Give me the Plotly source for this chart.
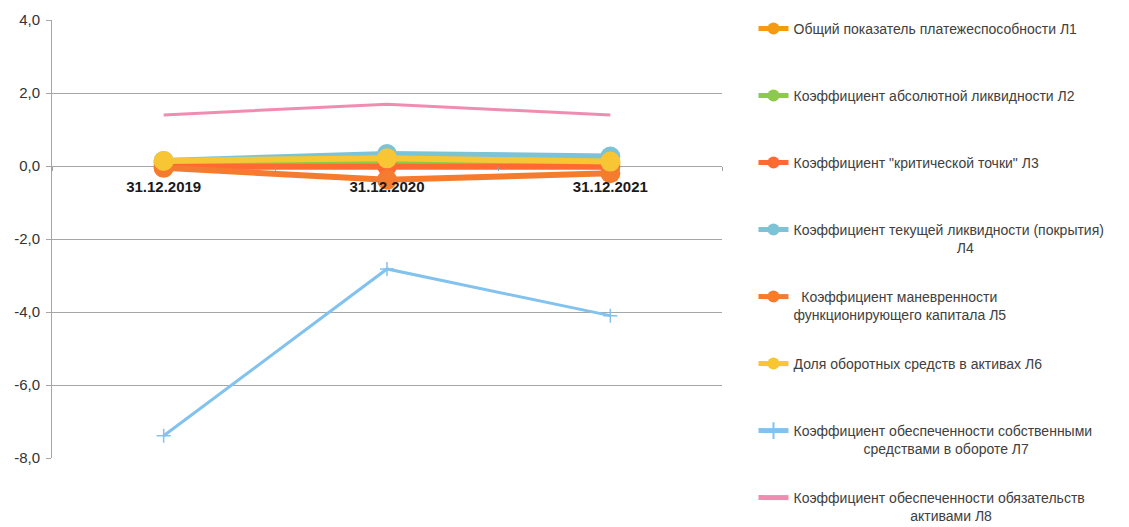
import plotly.graph_objects as go

categories = ["31.12.2019", "31.12.2020", "31.12.2021"]

y_tick_vals = [4, 2, 0, -2, -4, -6, -8]
y_tick_labels = ["4,0", "2,0", "0,0", "-2,0", "-4,0", "-6,0", "-8,0"]

names = [
    "Общий показатель платежеспособности Л1",
    "Коэффициент абсолютной ликвидности Л2",
    "Коэффициент \"критической точки\" Л3",
    "Коэффициент текущей ликвидности (покрытия)<br>" + "\u00a0" * 42 + "Л4",
    "\u00a0\u00a0Коэффициент маневренности<br>функционирующего капитала Л5",
    "Доля оборотных средств в активах Л6",
    "Коэффициент обеспеченности собственными<br>" + "\u00a0" * 18 + "средствами в обороте Л7",
    "Коэффициент обеспеченности обязательств<br>" + "\u00a0" * 30 + "активами Л8",
]

L1 = [0.10, 0.18, 0.10]
L2 = [0.03, 0.06, 0.04]
L3 = [-0.02, 0.00, -0.02]
L4 = [0.14, 0.33, 0.26]
L5 = [-0.05, -0.38, -0.20]
L6 = [0.14, 0.21, 0.12]
L7 = [-7.39, -2.82, -4.10]
L8 = [1.40, 1.69, 1.40]

series = [L1, L2, L3, L4, L5, L6, L7, L8]
colors = ["#F59B12", "#8DC94A", "#FF6A33", "#7CC3D6", "#F57B2E", "#F8C535", "#82C2EE", "#F18CB1"]

fig = go.Figure()
for i, (vals, name, col) in enumerate(zip(series, names, colors)):
    if i < 6:
        mode = "lines+markers"
        marker = dict(symbol="circle", size=20, color=col)
        line = dict(color=col, width=6)
    elif i == 6:
        mode = "lines+markers"
        marker = dict(symbol="cross-thin", size=10, color=col, line=dict(color=col, width=1.5))
        line = dict(color=col, width=3)
    else:
        mode = "lines"
        marker = None
        line = dict(color=col, width=3)
    lbl = name if "<br>" in name else name + "<br>\u00a0"
    fig.add_trace(go.Scatter(
        x=categories, y=vals, mode=mode, name=lbl, line=line,
        marker=marker, legendgroup=f"g{i}", showlegend=True,
    ))

fig.update_layout(
    width=1129, height=527,
    margin=dict(l=44, r=415, t=12, b=77, autoexpand=False),
    paper_bgcolor="white", plot_bgcolor="white",
    separators=", ",
    font=dict(family="Liberation Sans, Arial, sans-serif", size=14, color="#404040"),
    showlegend=True,
    legend=dict(
        x=1.047, xanchor="left", y=1.016, yanchor="top",
        traceorder="grouped", tracegroupgap=27.6, valign="top",
        itemsizing="constant", maxheight=1000,
        font=dict(family="Liberation Sans, Arial, sans-serif", size=14, color="#404040"),
        bgcolor="rgba(0,0,0,0)",
    ),
    xaxis=dict(
        type="category", range=[-0.5, 2.5], automargin=False,
        anchor="free", position=2/3,
        showline=False, showgrid=False, zeroline=False,
        ticks="outside", tickson="boundaries", ticklen=4, tickcolor="#a0a0a0",
        ticklabelstandoff=10,
        tickfont=dict(family="Liberation Sans, Arial, sans-serif", size=15, color="#1a1a1a", weight="bold"),
    ),
    yaxis=dict(
        range=[-8, 4], automargin=False,
        tickmode="array", tickvals=y_tick_vals, ticktext=y_tick_labels,
        showline=True, linecolor="#a6a6a6", linewidth=1,
        showgrid=True, gridcolor="#a6a6a6", gridwidth=1,
        zeroline=True, zerolinecolor="#a6a6a6", zerolinewidth=1,
        ticks="outside", ticklen=5, tickcolor="#a6a6a6",
        ticklabelstandoff=3,
        tickfont=dict(family="Liberation Sans, Arial, sans-serif", size=15, color="#333333"),
    ),
)

fig.write_html("out.html")
